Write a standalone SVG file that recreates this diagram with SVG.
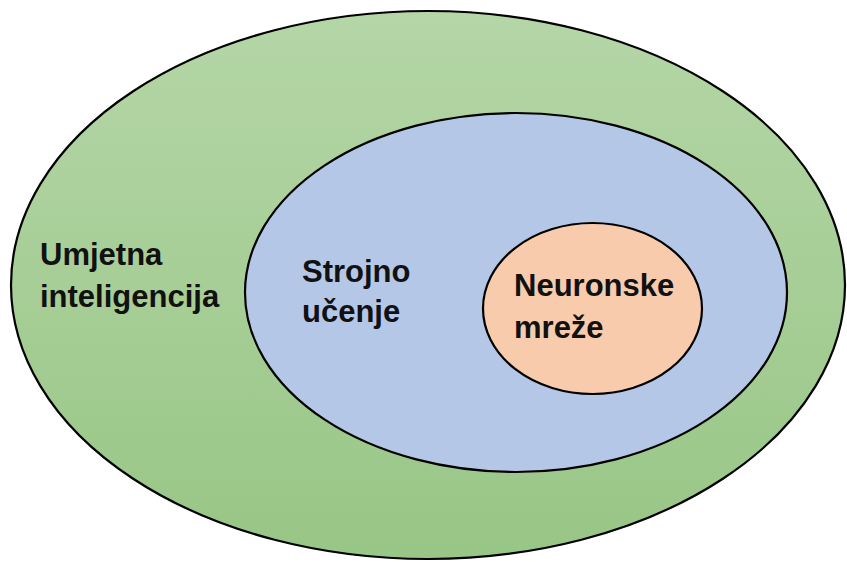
<svg xmlns="http://www.w3.org/2000/svg" width="847" height="562" viewBox="0 0 847 562">
  <style>
    .ring { stroke: #000; stroke-width: 2.2; }
    .lbl { font-family: "Liberation Sans", Arial, sans-serif; font-weight: bold; font-size: 31px; fill: #111; }
  </style>
  <defs>
    <linearGradient id="gGreen" x1="0" y1="0" x2="0" y2="1">
      <stop offset="0" stop-color="#b5d6a7"/>
      <stop offset="1" stop-color="#98c686"/>
    </linearGradient>
  </defs>
  <rect width="847" height="562" fill="#fff"/>
  <g id="ai">
    <ellipse class="ring" cx="428" cy="285" rx="417" ry="274" fill="url(#gGreen)"/>
    <text class="lbl" x="40" y="265">Umjetna</text>
    <text class="lbl" x="40" y="307">inteligencija</text>
  </g>
  <g id="ml">
    <ellipse class="ring" cx="516" cy="292.5" rx="271" ry="179.5" fill="#b4c7e7"/>
    <text class="lbl" x="302" y="282">Strojno</text>
    <text class="lbl" x="302" y="322">učenje</text>
  </g>
  <g id="nn">
    <ellipse class="ring" cx="592.5" cy="308.5" rx="109.5" ry="85.5" fill="#f8cbad"/>
    <text class="lbl" x="514" y="296">Neuronske</text>
    <text class="lbl" x="514" y="338">mreže</text>
  </g>
  <g id="connectors"></g>
</svg>
